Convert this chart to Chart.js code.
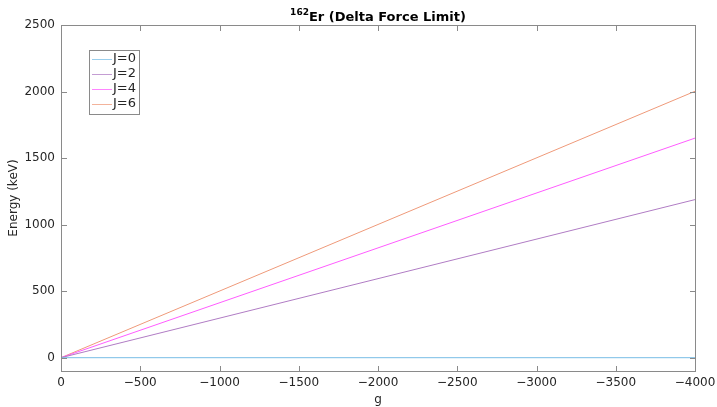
<!DOCTYPE html>
<html>
<head>
<meta charset="utf-8">
<script src="https://cdn.jsdelivr.net/npm/chart.js@4"></script>
<style>
  body { margin: 0; background: #fff; }
  #wrap { width: 717px; height: 407px; }
</style>
</head>
<body>
<div id="wrap"><canvas id="myChart1" width="717" height="407"></canvas></div>
<script>
// g values (x) at the two ends of each line
const gValues = [0, -4000];
const seriesNames = ["J=0", "J=2", "J=4", "J=6"];
const energyJ0 = [0, 0];
const energyJ2 = [0, 1188];
const energyJ4 = [0, 1650];
const energyJ6 = [0, 2002];
const xTicks = [0, -500, -1000, -1500, -2000, -2500, -3000, -3500, -4000];
const yTicks = [0, 500, 1000, 1500, 2000, 2500];

const colors = ["#78bde6", "#b07cc4", "#ff5cff", "#ef9a7a"];
const allSeries = [energyJ0, energyJ2, energyJ4, energyJ6];

const font = "DejaVu Sans";
const axisColor = "#8a8a8a";
const textColor = "#262626";

// matlab prints negative numbers with a real minus sign
const fmt = (v) => (v < 0 ? "\u2212" + Math.abs(v) : String(v));

// box around the plot + ticks pointing inward (matlab style)
const boxPlugin = {
  id: "box",
  afterDraw(chart) {
    const { ctx, chartArea: a, scales } = chart;
    ctx.save();
    ctx.strokeStyle = axisColor;
    ctx.fillStyle = axisColor;
    ctx.lineWidth = 1;
    const L = Math.round(a.left), R = Math.round(a.right);
    const T = Math.round(a.top), B = Math.round(a.bottom);
    ctx.strokeRect(L + 0.5, T + 0.5, R - L, B - T);
    const len = 6;
    xTicks.forEach((v) => {
      const px = Math.round(scales.x.getPixelForValue(v));
      ctx.fillRect(px, B - len + 1, 1, len);
      ctx.fillRect(px, T, 1, len);
    });
    yTicks.forEach((v) => {
      const py = Math.round(scales.y.getPixelForValue(v));
      ctx.fillRect(L, py, len, 1);
      ctx.fillRect(R - len + 1, py, len, 1);
    });

    // title with superscript
    const cx = (a.left + a.right) / 2;
    ctx.fillStyle = "#000";
    ctx.textBaseline = "alphabetic";
    ctx.textAlign = "left";
    ctx.font = "bold 9px " + font;
    const sup = "162";
    const wSup = ctx.measureText(sup).width;
    ctx.font = "bold 13px " + font;
    const main = "Er (Delta Force Limit)";
    const wMain = ctx.measureText(main).width;
    const x0 = cx - (wSup + wMain) / 2;
    ctx.fillText(main, x0 + wSup, 21);
    ctx.font = "bold 9px " + font;
    ctx.fillText(sup, x0, 15);

    // legend inside the plot, top left
    const lx = 89, ly = 50, lw = 50, lh = 64;
    ctx.fillStyle = "#fff";
    ctx.fillRect(lx, ly, lw, lh);
    ctx.strokeStyle = axisColor;
    ctx.strokeRect(lx + 0.5, ly + 0.5, lw, lh);
    ctx.font = "13px " + font;
    ctx.textBaseline = "middle";
    chart.data.datasets.forEach((ds, i) => {
      const y = ly + 8.5 + i * 15;
      ctx.globalAlpha = 0.75;
      ctx.strokeStyle = ds.borderColor;
      ctx.beginPath();
      ctx.moveTo(lx + 3, Math.round(y) + 0.5);
      ctx.lineTo(lx + 23, Math.round(y) + 0.5);
      ctx.stroke();
      ctx.globalAlpha = 1;
      ctx.fillStyle = textColor;
      ctx.fillText(ds.label, lx + 24, y + 0.5);
    });
    ctx.restore();
  },
};

const chart1 = document.getElementById("myChart1");
new Chart(chart1, {
  type: "line",
  data: {
    datasets: allSeries.map((vals, i) => ({
      label: seriesNames[i],
      data: gValues.map((g, k) => ({ x: g, y: vals[k] })),
      borderColor: colors[i],
      borderWidth: 1,
      pointRadius: 0,
      tension: 0,
    })),
  },
  options: {
    responsive: false,
    animation: false,
    events: [],
    layout: { padding: { top: 25, right: 22, left: 0, bottom: 0 } },
    plugins: {
      legend: { display: false },
      title: { display: false },
      tooltip: { enabled: false },
    },
    scales: {
      x: {
        type: "linear",
        reverse: true,
        min: -4000,
        max: 0,
        grid: { display: false, drawTicks: false },
        border: { display: false },
        afterBuildTicks: (scale) => {
          scale.ticks = xTicks.map((v) => ({ value: v }));
        },
        afterFit: (scale) => {
          scale.height = 36;
          scale.paddingLeft = 0;
          scale.paddingRight = 0;
        },
        ticks: {
          font: { family: font, size: 12 },
          color: textColor,
          padding: 5,
          maxRotation: 0,
          autoSkip: false,
          callback: fmt,
        },
        title: {
          display: true,
          text: "g",
          font: { family: font, size: 12 },
          color: textColor,
          padding: { top: 0, bottom: 0 },
        },
      },
      y: {
        min: -100,
        max: 2500,
        grid: { display: false, drawTicks: false },
        border: { display: false },
        afterBuildTicks: (scale) => {
          scale.ticks = yTicks.map((v) => ({ value: v }));
        },
        afterFit: (scale) => {
          scale.width = 61;
          scale.paddingTop = 0;
          scale.paddingBottom = 0;
        },
        ticks: {
          font: { family: font, size: 12 },
          color: textColor,
          padding: 6,
          callback: fmt,
        },
        title: {
          display: true,
          text: "Energy (keV)",
          font: { family: font, size: 12 },
          color: textColor,
          padding: { top: 7, bottom: 0 },
        },
      },
    },
  },
  plugins: [boxPlugin],
});
</script>
</body>
</html>
